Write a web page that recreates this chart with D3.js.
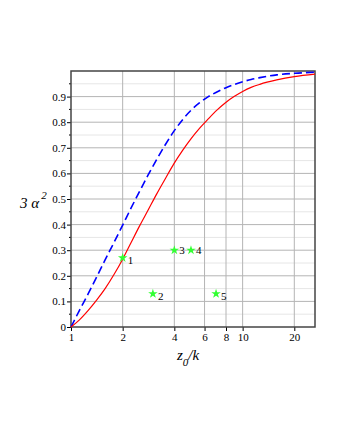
<!DOCTYPE html>
<html>
<head>
<meta charset="utf-8">
<script src="https://cdn.jsdelivr.net/npm/d3@7"></script>
<style>
  html, body { margin: 0; padding: 0; background: #fff; }
  svg { display: block; font-family: "Liberation Serif", "DejaVu Serif", serif; }
</style>
</head>
<body>
<div id="chart"></div>
<script>
(function() {
    'use strict';

    // z0/k sample points
    var zValues = [1, 1.12, 1.26, 1.41, 1.58, 1.78, 2, 2.24, 2.51, 2.82, 3.16, 3.55, 3.98, 4.47, 5.01, 5.62, 6.31, 7.08, 7.94, 8.91, 10, 11.2, 12.6, 15.8, 20, 26.4];
    // solid red curve
    var redValues = [0, 0.028, 0.065, 0.105, 0.15, 0.205, 0.265, 0.33, 0.395, 0.458, 0.52, 0.58, 0.638, 0.69, 0.736, 0.777, 0.813, 0.847, 0.876, 0.9, 0.92, 0.936, 0.948, 0.965, 0.978, 0.988];
    // dashed blue curve
    var blueValues = [0, 0.065, 0.13, 0.195, 0.262, 0.33, 0.398, 0.465, 0.53, 0.595, 0.655, 0.713, 0.765, 0.81, 0.847, 0.876, 0.9, 0.918, 0.934, 0.947, 0.958, 0.967, 0.974, 0.985, 0.991, 0.995];

    // green markers
    var markerX = [2, 3, 4, 5, 7];
    var markerY = [0.27, 0.13, 0.30, 0.30, 0.13];
    var markerLabels = ['1', '2', '3', '4', '5'];

    var xTicks = [1, 2, 4, 6, 8, 10, 20];
    var yTicks = [0, 0.1, 0.2, 0.3, 0.4, 0.5, 0.6, 0.7, 0.8, 0.9];
    var yMinor = [0.05, 0.15, 0.25, 0.35, 0.45, 0.55, 0.65, 0.75, 0.85, 0.95];

    var width = 340, height = 440;
    var margin = { top: 71, right: 25, bottom: 113, left: 71 };

    var svg = d3.select('#chart').append('svg')
        .attr('width', width)
        .attr('height', height);

    var x = d3.scaleLog().domain([1, 26.4]).range([margin.left, width - margin.right]);
    var y = d3.scaleLinear().domain([0, 1]).range([height - margin.bottom, margin.top]);

    var g = svg.append('g');

    // Grid
    g.append('g').selectAll('line')
        .data(yMinor)
        .join('line')
        .attr('x1', x.range()[0]).attr('x2', x.range()[1])
        .attr('y1', function(d) { return y(d); }).attr('y2', function(d) { return y(d); })
        .attr('stroke', '#e6e6e6').attr('stroke-width', 1);

    g.append('g').selectAll('line')
        .data(yTicks.slice(1))
        .join('line')
        .attr('x1', x.range()[0]).attr('x2', x.range()[1])
        .attr('y1', function(d) { return y(d); }).attr('y2', function(d) { return y(d); })
        .attr('stroke', '#b4b4b4').attr('stroke-width', 1);

    g.append('g').selectAll('line')
        .data(xTicks.slice(1))
        .join('line')
        .attr('x1', function(d) { return x(d); }).attr('x2', function(d) { return x(d); })
        .attr('y1', y.range()[0]).attr('y2', y.range()[1])
        .attr('stroke', '#b4b4b4').attr('stroke-width', 1);

    // Axes
    var xAxis = d3.axisBottom(x)
        .tickValues(xTicks)
        .tickFormat(d3.format('d'))
        .tickSize(4)
        .tickPadding(2);
    var gx = g.append('g')
        .attr('transform', 'translate(0,' + y.range()[0] + ')')
        .call(xAxis);
    gx.select('.domain').remove();

    var yAxis = d3.axisLeft(y)
        .tickValues(yTicks)
        .tickFormat(function(d) { return d === 0 ? '0' : d3.format('.1f')(d); })
        .tickSize(4)
        .tickPadding(1);
    var gy = g.append('g')
        .attr('transform', 'translate(' + x.range()[0] + ',0)')
        .call(yAxis);
    gy.select('.domain').remove();

    gy.append('g').selectAll('line')
        .data(yMinor)
        .join('line')
        .attr('x1', -2).attr('x2', 0)
        .attr('y1', function(d) { return y(d); }).attr('y2', function(d) { return y(d); })
        .attr('stroke', '#000');

    [gx, gy].forEach(function(a) {
        a.selectAll('text')
            .attr('font-family', '"Liberation Serif", serif')
            .attr('font-size', 11)
            .attr('fill', '#000');
        a.selectAll('.tick line').attr('stroke', '#000');
    });

    // Frame
    g.append('rect')
        .attr('x', x.range()[0]).attr('y', y.range()[1])
        .attr('width', x.range()[1] - x.range()[0])
        .attr('height', y.range()[0] - y.range()[1])
        .attr('fill', 'none')
        .attr('stroke', '#444')
        .attr('stroke-width', 1.5);

    // Curves
    var line = d3.line()
        .x(function(d) { return x(d[0]); })
        .y(function(d) { return y(d[1]); })
        .curve(d3.curveMonotoneX);

    g.append('path')
        .datum(d3.zip(zValues, blueValues))
        .attr('d', line)
        .attr('fill', 'none')
        .attr('stroke', '#0000ff')
        .attr('stroke-width', 1.6)
        .attr('stroke-dasharray', '8,4');

    g.append('path')
        .datum(d3.zip(zValues, redValues))
        .attr('d', line)
        .attr('fill', 'none')
        .attr('stroke', '#ff0000')
        .attr('stroke-width', 1.2);

    // Markers
    var star = d3.symbol().type(d3.symbolStar).size(28);
    var markers = g.append('g').selectAll('g')
        .data(d3.range(markerX.length))
        .join('g')
        .attr('transform', function(i) { return 'translate(' + x(markerX[i]) + ',' + y(markerY[i]) + ')'; });

    markers.append('path')
        .attr('d', star)
        .attr('fill', '#33ff33');

    markers.append('text')
        .attr('x', 5)
        .attr('y', function(i) { return (i === 2 || i === 3) ? 4 : 6; })
        .attr('font-size', 11)
        .attr('fill', '#000')
        .text(function(i) { return markerLabels[i]; });

    // Axis titles
    var yt = svg.append('text')
        .attr('x', 20).attr('y', 208)
        .attr('font-size', 15)
        .attr('font-style', 'italic');
    yt.append('tspan').text('3 α');
    yt.append('tspan').attr('dy', -9).attr('dx', 2).attr('font-size', 11).text('2');

    var xt = svg.append('text')
        .attr('x', 177).attr('y', 360)
        .attr('font-size', 15)
        .attr('font-style', 'italic');
    xt.append('tspan').text('z');
    xt.append('tspan').attr('dy', 6).attr('font-size', 11).text('0');
    xt.append('tspan').attr('dy', -6).text('/k');
})();
</script>
</body>
</html>
